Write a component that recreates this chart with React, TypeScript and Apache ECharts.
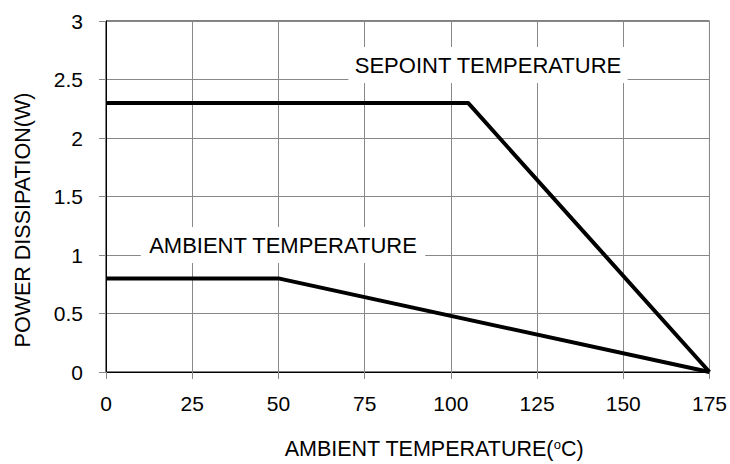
import React, { useEffect, useRef } from "react";
import * as echarts from "echarts";

const setpointCurve: [number, number][] = [
  [0, 2.3],
  [105, 2.3],
  [175, 0],
];
const ambientCurve: [number, number][] = [
  [0, 0.8],
  [50, 0.8],
  [175, 0],
];
const setpointLabel = "SEPOINT TEMPERATURE";
const ambientLabel = "AMBIENT TEMPERATURE";
const yTitle = "POWER DISSIPATION(W)";

const FONT = "'Liberation Sans', Arial, sans-serif";

export default function App() {
  const ref = useRef<HTMLDivElement>(null);
  useEffect(() => {
    document.body.style.margin = "0";
    const chart = echarts.init(ref.current!, undefined, { renderer: "svg" });
    chart.setOption({
      animation: false,
      backgroundColor: "#fff",
      grid: {
        left: 106,
        right: 15,
        top: 21,
        bottom: 92,
        show: true,
        borderColor: "#000",
        borderWidth: 1,
        backgroundColor: "transparent",
      },
      xAxis: {
        type: "value",
        min: 0,
        max: 175,
        interval: 25,
        axisLine: { show: true, lineStyle: { color: "#000", width: 1 } },
        axisTick: { show: true, length: 7, lineStyle: { color: "#888" } },
        splitLine: { show: true, lineStyle: { color: "#888", width: 1 } },
        axisLabel: { color: "#000", fontSize: 21, fontFamily: FONT, margin: 21 },
      },
      yAxis: {
        type: "value",
        min: 0,
        max: 3,
        interval: 0.5,
        axisLine: { show: true, lineStyle: { color: "#000", width: 1 } },
        axisTick: { show: true, length: 7, lineStyle: { color: "#888" } },
        splitLine: { show: true, lineStyle: { color: "#888", width: 1 } },
        axisLabel: { color: "#000", fontSize: 21, fontFamily: FONT, margin: 23 },
      },
      series: [
        {
          type: "line",
          data: setpointCurve,
          showSymbol: false,
          clip: false,
          lineStyle: { color: "#000", width: 4 },
          z: 5,
        },
        {
          type: "line",
          data: ambientCurve,
          showSymbol: false,
          clip: false,
          lineStyle: { color: "#000", width: 4 },
          z: 5,
        },
      ],
      graphic: [
        {
          type: "text",
          x: 23,
          y: 220,
          rotation: Math.PI / 2,
          style: {
            text: yTitle,
            fill: "#000",
            font: `21.5px ${FONT}`,
            align: "center",
            verticalAlign: "middle",
          },
        },
        {
          type: "text",
          x: 434,
          y: 449,
          style: {
            text: "AMBIENT TEMPERATURE({sup|o}C)",
            fill: "#000",
            font: `21.5px ${FONT}`,
            align: "center",
            verticalAlign: "middle",
            rich: {
              sup: { fontSize: 13, fontFamily: FONT, verticalAlign: "top", padding: [0, 0, 6, 0] },
            },
          },
        },
        {
          type: "text",
          x: 488,
          y: 65,
          z: 10,
          style: {
            text: setpointLabel,
            fill: "#000",
            font: `22px ${FONT}`,
            align: "center",
            verticalAlign: "middle",
            backgroundColor: "#fff",
            padding: [7, 6],
            lineHeight: 22,
          },
        },
        {
          type: "text",
          x: 283,
          y: 245,
          z: 10,
          style: {
            text: ambientLabel,
            fill: "#000",
            font: `22px ${FONT}`,
            align: "center",
            verticalAlign: "middle",
            backgroundColor: "#fff",
            padding: [7, 8],
            lineHeight: 22,
          },
        },
      ],
    });
    return () => chart.dispose();
  }, []);
  return (
    <div
      ref={ref}
      style={{ width: 730, height: 464, position: "fixed", left: 0, top: 0 }}
    />
  );
}
